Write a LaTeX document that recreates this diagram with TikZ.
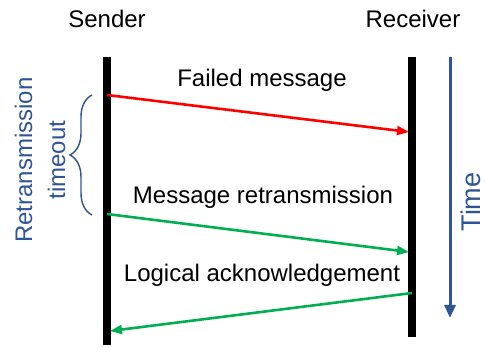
\documentclass[tikz,border=0pt]{standalone}
\usepackage{fontspec}
\setmainfont{Liberation Sans}
\usetikzlibrary{arrows.meta,decorations.pathreplacing}
\definecolor{timeblue}{HTML}{2F5597}
\definecolor{msgred}{HTML}{FF0000}
\definecolor{msggreen}{HTML}{00B050}
\tikzset{
  lifeline/.style={line width=8pt, black},
  msgarrow/.style={line width=2.6pt, -{Triangle[length=12pt,width=9pt]}},
  label/.style={font=\fontsize{24}{28}\selectfont, anchor=base, inner sep=0pt},
  bluelabel/.style={font=\fontsize{24}{33}\selectfont, text=timeblue, inner sep=0pt, rotate=90, align=center},
}
\begin{document}
\begin{tikzpicture}[x=1pt,y=-1pt]
  \useasboundingbox (0,0) rectangle (485,347);

  % lifelines
  \coordinate (sTop) at (107,57);
  \coordinate (sBot) at (107,345);
  \coordinate (rTop) at (412,57);
  \coordinate (rBot) at (412,337);
  \draw[lifeline] (sTop) -- (sBot);
  \draw[lifeline] (rTop) -- (rBot);

  % headings
  \node[label] (sender) at (107,28) {Sender};
  \node[label] (receiver) at (413,28) {Receiver};

  % message endpoints
  \coordinate (m1a) at (107,95);
  \coordinate (m1b) at (409,132);
  \coordinate (m2a) at (107,214);
  \coordinate (m2b) at (409,252);
  \coordinate (m3a) at (412,293);
  \coordinate (m3b) at (110,331);

  \draw[msgarrow, msgred] (m1a) -- (m1b);
  \draw[msgarrow, msggreen] (m2a) -- (m2b);
  \draw[msgarrow, msggreen] (m3a) -- (m3b);

  \node[label] (failed) at (262,87) {Failed message};
  \node[label] (retx) at (263,204) {Message retransmission};
  \node[label] (ack) at (262,282) {Logical acknowledgement};

  % retransmission timeout brace
  \coordinate (bLow) at (92,215);
  \coordinate (bHigh) at (92,95);
  \draw[timeblue, line width=1.4pt, decorate, decoration={brace, amplitude=22pt}] (bLow) -- (bHigh);
  \node[bluelabel] (timeout) at (40,160) {Retransmission\\timeout};

  % time axis
  \coordinate (tTop) at (450,57);
  \coordinate (tBot) at (450,318);
  \draw[timeblue, line width=3pt, -{Triangle[length=13pt,width=11pt]}] (tTop) -- (tBot);
  \node[font=\fontsize{27}{31}\selectfont, text=timeblue, rotate=90, anchor=north, inner sep=0pt] (time) at (461,202) {Time};
\end{tikzpicture}
\end{document}
